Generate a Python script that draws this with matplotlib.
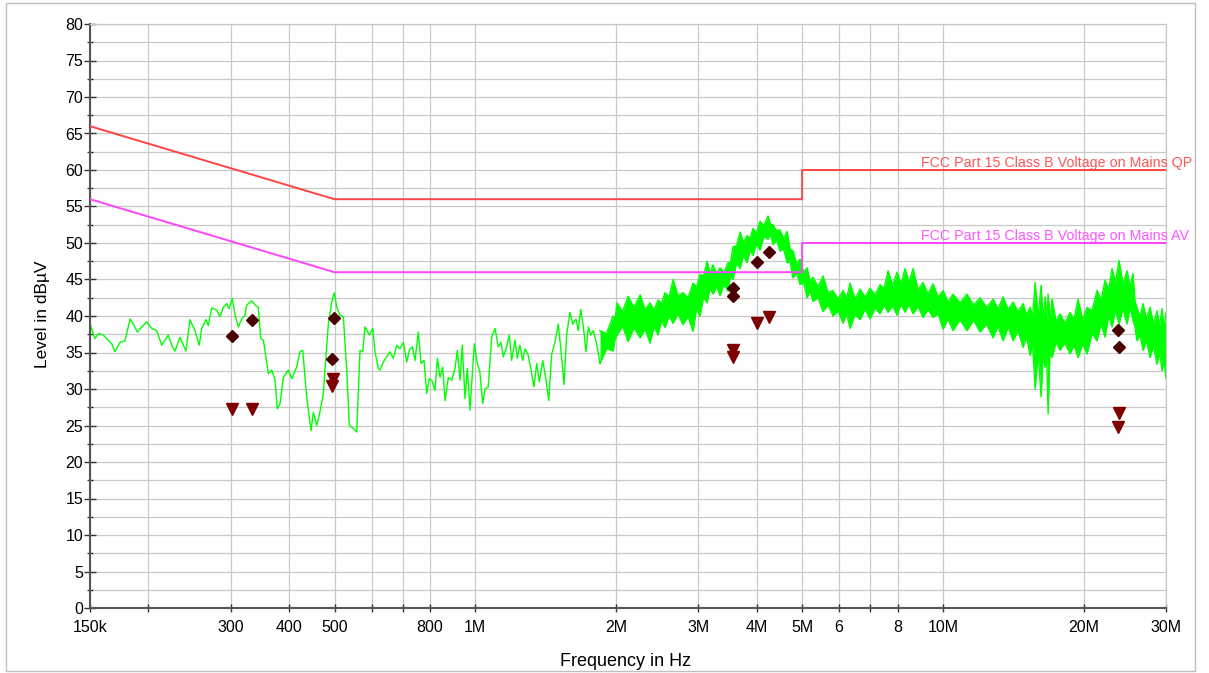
import numpy as np
import matplotlib
matplotlib.use("Agg")
import matplotlib.pyplot as plt
from matplotlib.ticker import FixedLocator, FixedFormatter, MultipleLocator
from matplotlib.patches import Rectangle
from matplotlib.transforms import Bbox, TransformedBbox

plt.rcParams['font.family'] = ['Liberation Sans', 'DejaVu Sans']

# ---------------- data ----------------
# measured trace, low band (frequency kHz, level dBuV)
trace_low = [
    (150.0, 38.9), (153.7, 36.9), (156.3, 37.6), (160.2, 37.4), (162.9, 36.9), (166.9, 36.2),
    (169.6, 35.1), (173.9, 36.4), (178.2, 36.6), (182.7, 39.6), (185.7, 38.9), (189.4, 37.8),
    (193.5, 38.5), (198.3, 39.2), (203.2, 38.3), (208.3, 38.0), (213.5, 36.0), (220.6, 37.4),
    (224.3, 36.0), (227.9, 35.2), (233.6, 37.1), (240.6, 35.2), (245.4, 39.5), (251.5, 38.0),
    (256.9, 36.0), (260.0, 38.3), (265.5, 39.5), (268.6, 38.7), (273.1, 41.1), (280.0, 40.8),
    (284.5, 39.9), (289.2, 41.2), (294.0, 41.7), (297.4, 41.0), (302.3, 42.4), (306.4, 40.1),
    (311.4, 38.5), (316.6, 39.6), (321.8, 40.1), (324.5, 41.5), (332.6, 42.1), (338.1, 41.5),
    (343.6, 41.2), (347.8, 36.9), (352.2, 36.7), (361.0, 32.1), (367.1, 32.6), (373.1, 31.2),
    (377.3, 27.3), (382.3, 28.0), (388.7, 31.6), (398.4, 32.6), (405.0, 31.4), (415.0, 33.0),
    (421.9, 35.1), (427.6, 35.3), (436.0, 28.9), (445.4, 24.3), (450.5, 26.8), (458.0, 25.0),
    (464.0, 26.4), (473.2, 29.4), (485.0, 38.9), (493.2, 41.9), (499.6, 43.2), (505.5, 41.2),
    (513.7, 40.1), (522.2, 39.9), (531.0, 32.6), (537.8, 25.0), (548.5, 24.6), (557.8, 24.1),
    (566.9, 35.3), (574.5, 35.1), (581.0, 38.5), (593.5, 37.4), (603.5, 38.3), (610.4, 35.1),
    (620.4, 32.8), (625.7, 32.6), (636.0, 33.7), (646.5, 34.4), (657.2, 35.1), (668.0, 34.2),
    (679.2, 36.0), (690.4, 35.5), (701.6, 36.4), (713.5, 33.7), (722.8, 35.3), (733.5, 35.8),
    (743.2, 33.9), (755.4, 37.8), (765.6, 33.5), (777.0, 33.9), (787.4, 29.4), (797.5, 31.4),
    (807.1, 31.2), (820.3, 29.8), (829.6, 34.2), (840.8, 31.6), (852.0, 33.0), (861.7, 28.4),
    (875.8, 31.6), (890.4, 31.2), (905.1, 32.8), (915.4, 35.3), (927.6, 31.2), (938.1, 36.0),
    (950.8, 28.7), (961.6, 32.8), (974.5, 27.1), (985.5, 32.1), (995.4, 36.2), (1007, 33.9),
    (1023, 32.3), (1037, 28.0), (1049, 30.0), (1066, 30.3), (1084, 37.1), (1102, 38.3),
    (1120, 35.8), (1135, 36.4), (1148, 34.4), (1167, 35.8), (1182, 37.4), (1196, 33.9),
    (1216, 36.7), (1230, 34.2), (1246, 36.0), (1263, 33.9), (1278, 35.5), (1298, 34.6),
    (1316, 32.6), (1335, 30.3), (1353, 33.5), (1371, 31.0), (1394, 33.9), (1417, 31.2),
    (1436, 28.4), (1457, 34.8), (1481, 36.4), (1505, 38.9), (1530, 34.4), (1548, 30.6),
    (1568, 37.4), (1594, 40.5), (1616, 38.9), (1642, 39.6), (1661, 38.0), (1681, 40.9),
    (1703, 38.5), (1725, 35.1), (1745, 38.5), (1766, 37.4), (1788, 38.0), (1818, 36.2),
    (1848, 33.5),
]

# measured trace, dense band (frequency MHz, min level, max level)
trace_band = [
    (1.848, 33.5, 38.0), (1.908, 35.5, 37.6), (1.971, 35.2, 40.0), (1.990, 36.8, 39.5),
    (2.010, 37.4, 41.8), (2.065, 38.6, 40.6), (2.122, 36.5, 42.7), (2.186, 38.4, 41.2),
    (2.252, 37.0, 42.9), (2.307, 38.2, 40.9), (2.364, 36.3, 41.8), (2.412, 38.5, 40.8),
    (2.460, 37.4, 42.2), (2.503, 39.4, 41.7), (2.546, 38.4, 43.2), (2.597, 40.0, 42.6),
    (2.648, 39.0, 45.0), (2.714, 40.3, 42.8), (2.781, 38.8, 43.2), (2.851, 39.9, 42.5),
    (2.922, 37.9, 44.5), (2.973, 41.0, 44.0), (3.024, 40.0, 45.7), (3.077, 42.6, 45.5),
    (3.131, 41.8, 47.5), (3.177, 43.8, 45.9), (3.224, 43.0, 47.0), (3.280, 44.0, 45.8),
    (3.337, 42.8, 46.6), (3.403, 44.3, 46.0), (3.471, 43.4, 47.3), (3.514, 45.6, 47.4),
    (3.558, 45.0, 49.5), (3.620, 47.3, 49.6), (3.683, 46.5, 51.5), (3.747, 48.3, 50.1),
    (3.812, 47.3, 51.0), (3.869, 49.0, 50.7), (3.926, 48.3, 52.0), (3.994, 49.9, 51.4),
    (4.063, 49.0, 53.0), (4.144, 50.9, 52.4), (4.227, 50.5, 53.7), (4.279, 51.2, 52.6),
    (4.332, 49.8, 52.5), (4.408, 50.4, 51.7), (4.485, 48.9, 51.8), (4.563, 49.2, 50.6),
    (4.643, 47.3, 51.6), (4.712, 47.4, 49.2), (4.781, 45.2, 48.9), (4.865, 45.9, 47.2),
    (4.950, 44.3, 47.8), (5.036, 44.6, 46.0), (5.123, 42.5, 46.6), (5.199, 43.4, 44.8),
    (5.277, 42.0, 45.3), (5.408, 42.5, 44.0), (5.543, 40.6, 45.5), (5.681, 41.5, 43.2),
    (5.823, 40.0, 43.5), (5.968, 40.7, 42.3), (6.117, 39.0, 43.5), (6.224, 40.3, 42.4),
    (6.332, 38.3, 44.5), (6.490, 40.2, 42.3), (6.651, 39.5, 43.7), (6.817, 40.9, 42.6),
    (6.987, 39.6, 43.8), (7.161, 41.1, 42.9), (7.340, 40.3, 44.3), (7.486, 41.5, 43.8),
    (7.634, 40.5, 46.2), (7.805, 41.4, 44.2), (7.979, 40.1, 46.0), (8.138, 41.6, 44.4),
    (8.301, 40.5, 46.5), (8.466, 41.6, 44.6), (8.634, 40.3, 46.5), (8.849, 41.3, 43.6),
    (9.069, 39.8, 44.6), (9.295, 40.9, 43.0), (9.527, 39.8, 44.4), (9.765, 40.3, 42.6),
    (10.01, 38.2, 43.5), (10.26, 39.6, 41.9), (10.51, 38.0, 43.0), (10.88, 39.5, 41.8),
    (11.26, 38.0, 43.0), (11.63, 39.4, 41.5), (12.01, 37.8, 42.5), (12.40, 38.9, 41.2),
    (12.80, 37.0, 42.3), (13.12, 38.6, 41.0), (13.45, 36.6, 42.6), (13.79, 38.5, 40.9),
    (14.13, 36.6, 41.9), (14.48, 38.0, 40.6), (14.84, 35.7, 41.7), (15.10, 37.2, 40.2),
    (15.36, 34.6, 41.2), (15.55, 36.0, 40.0), (15.75, 30.0, 44.6), (15.98, 35.0, 39.8),
    (16.22, 28.9, 44.2), (16.38, 34.6, 39.5), (16.54, 33.0, 42.6), (16.66, 35.0, 39.6),
    (16.79, 26.6, 43.0), (16.95, 35.5, 39.6), (17.12, 34.3, 42.3), (17.46, 36.4, 39.2),
    (17.80, 35.3, 40.3), (18.24, 36.3, 39.0), (18.70, 34.8, 40.5), (19.08, 36.0, 39.6),
    (19.46, 34.3, 42.3), (19.89, 36.2, 39.5), (20.34, 34.8, 41.2), (20.84, 37.6, 40.7),
    (21.36, 36.6, 43.5), (21.79, 38.9, 42.2), (22.23, 37.1, 44.9), (22.61, 40.0, 43.6),
    (23.00, 38.5, 46.5), (23.40, 40.8, 44.6), (23.80, 38.9, 47.6), (24.27, 41.0, 44.4),
    (24.76, 38.9, 46.2), (25.13, 41.2, 44.0), (25.50, 39.4, 45.8), (25.75, 38.5, 42.0),
    (26.01, 36.6, 41.2), (26.40, 37.4, 39.8), (26.79, 35.3, 41.7), (27.26, 36.6, 39.6),
    (27.73, 34.3, 41.2), (28.21, 35.9, 38.9), (28.70, 33.4, 40.7), (29.06, 35.0, 38.7),
    (29.43, 32.5, 41.0), (29.71, 34.0, 38.2), (30.00, 31.4, 40.5),
]

# limit lines (MHz, dBuV)
qp_limit_freq = [0.15, 0.5, 5.0, 5.0, 30.0]
qp_limit_level = [66, 56, 56, 60, 60]
av_limit_freq = [0.15, 0.5, 5.0, 5.0, 30.0]
av_limit_level = [56, 46, 46, 50, 50]
qp_limit_name = "FCC Part 15 Class B Voltage on Mains QP"
av_limit_name = "FCC Part 15 Class B Voltage on Mains AV"

# final measurement markers (MHz, dBuV)
qp_meas_freq = [0.302, 0.3326, 0.4988, 0.4947, 3.564, 3.564, 4.01, 4.248, 23.73, 23.85]
qp_meas_level = [37.2, 39.5, 39.7, 34.1, 43.9, 42.8, 47.4, 48.7, 38.1, 35.8]
av_meas_freq = [0.302, 0.3326, 0.4970, 0.4935, 3.564, 3.564, 4.01, 4.24, 23.85, 23.73]
av_meas_level = [27.3, 27.3, 31.4, 30.4, 35.3, 34.4, 39.0, 39.8, 26.7, 24.8]

# axis ticks
x_tick_hz = [150e3, 200e3, 300e3, 400e3, 500e3, 600e3, 700e3, 800e3, 1e6, 2e6, 3e6, 4e6,
             5e6, 6e6, 7e6, 8e6, 10e6, 20e6, 30e6]
x_tick_labels = ["150k", "", "300", "400", "500", "", "", "800", "1M", "2M", "3M", "4M",
                 "5M", "6", "", "8", "10M", "20M", "30M"]

# ---------------- figure ----------------
W, H = 1209, 673
fig = plt.figure(figsize=(W / 100, H / 100), dpi=100)
fig.patch.set_facecolor("white")
ax = fig.add_axes([90 / W, 1 - 608 / H, 1076 / W, 584 / H])

grid_c = "#c8c8c8"
ax.set_xscale("log")
ax.set_xlim(150e3, 30e6)
ax.set_ylim(0, 80)

ax.xaxis.set_major_locator(FixedLocator(x_tick_hz))
ax.xaxis.set_major_formatter(FixedFormatter(x_tick_labels))
ax.xaxis.set_minor_locator(FixedLocator([]))
ax.yaxis.set_major_locator(MultipleLocator(5))
ax.yaxis.set_minor_locator(MultipleLocator(2.5))

ax.grid(True, which="major", color=grid_c, lw=0.9, zorder=0)
ax.grid(True, which="minor", axis="y", color=grid_c, lw=0.9, zorder=0)
ax.set_axisbelow(True)

for s in ("top", "right"):
    ax.spines[s].set_color(grid_c)
    ax.spines[s].set_linewidth(0.9)
for s in ("left", "bottom"):
    ax.spines[s].set_color("#555555")
    ax.spines[s].set_linewidth(1.5)

ax.tick_params(axis="x", which="major", direction="inout", length=6, width=1,
               color="#333333", labelsize=11.5, pad=6)
ax.tick_params(axis="y", which="major", direction="inout", length=9, width=1,
               color="#333333", labelsize=11.5, pad=0.5)
ax.tick_params(axis="y", which="minor", direction="inout", length=5, width=1,
               color="#333333")

# trace
low_f = [p[0] * 1e3 for p in trace_low]
low_l = [p[1] for p in trace_low]
band_f = [p[0] * 1e6 for p in trace_band]
band_lo = [p[1] for p in trace_band]
band_hi = [p[2] for p in trace_band]
green = "#00ff00"
ax.plot(low_f, low_l, color=green, lw=1.0, zorder=2)
ax.fill_between(band_f, band_lo, band_hi, color=green, lw=0, zorder=2)
ax.plot(band_f, band_lo, color=green, lw=1.0, zorder=2)
ax.plot(band_f, band_hi, color=green, lw=1.0, zorder=2)

# limits
qp_c = "#ff4444"
av_c = "#ff44ff"
ax.plot([f * 1e6 for f in qp_limit_freq], qp_limit_level, color=qp_c, lw=1.4, zorder=3)
ax.plot([f * 1e6 for f in av_limit_freq], av_limit_level, color=av_c, lw=1.4, zorder=3)

clip = TransformedBbox(Bbox([[0, 0], [1195 / W, 1]]), fig.transFigure)
t1 = ax.text(9.0e6, qp_limit_level[-1] + 0.45, qp_limit_name, color="#ff5555",
             fontsize=10.3, ha="left", va="baseline", zorder=4)
t2 = ax.text(9.0e6, av_limit_level[-1] + 0.45, av_limit_name, color="#ff55ff",
             fontsize=10.3, ha="left", va="baseline", zorder=4)
for t in (t1, t2):
    t.set_clip_on(True)
    t.set_clip_box(clip)

# markers
ax.plot([f * 1e6 for f in av_meas_freq], av_meas_level, ls="none", marker="v",
        ms=8, color="#800000", zorder=5)
ax.plot([f * 1e6 for f in qp_meas_freq], qp_meas_level, ls="none", marker="D",
        ms=6.5, color="#4a0000", zorder=6)

# labels
fig.text(626 / W, 1 - 661 / H, "Frequency in Hz", ha="center", va="center", fontsize=13)
fig.text(42 / W, 1 - 314 / H, "Level in dB\u00b5V", ha="center", va="center",
         rotation=90, fontsize=12.5)

# outer border
fig.patches.append(Rectangle((6 / W, 1 - 671 / H), (1195 - 6) / W, (671 - 2.7) / H,
                             transform=fig.transFigure, fill=False, ec="#c0c0c0", lw=1))

fig.savefig("out.png", dpi=100)
